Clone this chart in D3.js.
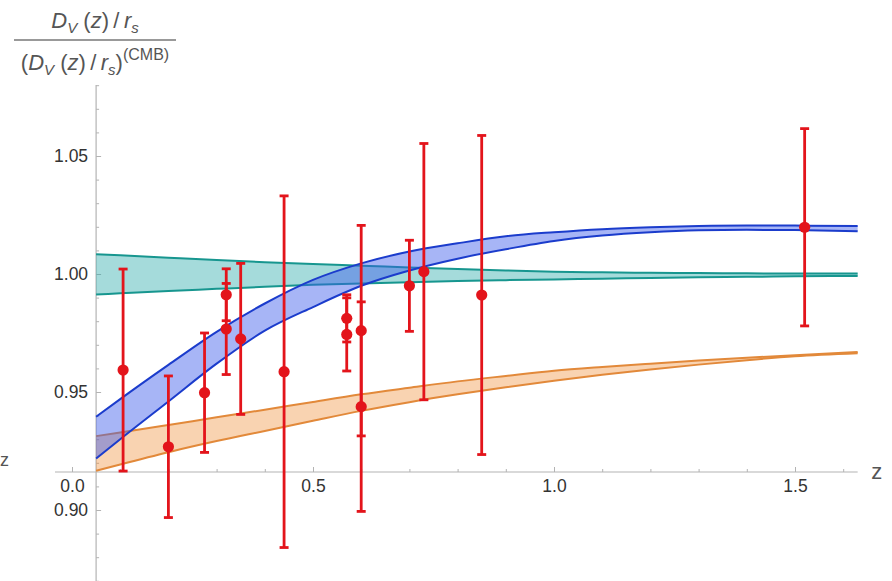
<!DOCTYPE html>
<html><head><meta charset="utf-8">
<script src="https://cdn.jsdelivr.net/npm/d3@7"></script>
<style>
body{margin:0;background:#fff;}
svg{display:block;font-family:"Liberation Sans",Arial,sans-serif;}
</style></head>
<body><svg id="c" width="892" height="581"></svg>
<script>
// ---- data ----
const zBand = [0.05,0.1,0.2,0.3,0.4,0.5,0.6,0.7,0.8,0.9,1.0,1.1,1.2,1.3,1.4,1.5,1.63];
const tealUpper = [1.0084,1.0079,1.0069,1.0059,1.0050,1.0042,1.0035,1.0028,1.0021,1.0015,1.0010,1.0007,1.0005,1.0004,1.0003,1.0002,1.0002];
const tealLower = [0.9913,0.9918,0.9928,0.9937,0.9946,0.9954,0.9960,0.9965,0.9970,0.9974,0.9977,0.9980,0.9983,0.9986,0.9988,0.9990,0.9992];
const blueUpper = [0.9395,0.9470,0.9615,0.9755,0.9875,0.9975,1.0045,1.0095,1.0130,1.0160,1.0177,1.0190,1.0198,1.0203,1.0205,1.0205,1.0203];
const blueLower = [0.9218,0.9300,0.9460,0.9620,0.9760,0.9860,0.9950,1.0015,1.0065,1.0105,1.0140,1.0163,1.0177,1.0185,1.0187,1.0186,1.0181];
const orangeUpper = [0.9313,0.9328,0.9360,0.9393,0.9425,0.9458,0.9490,0.9518,0.9545,0.9568,0.9590,0.9606,0.9620,0.9633,0.9645,0.9656,0.9669];
const orangeLower = [0.9166,0.9193,0.9245,0.9292,0.9335,0.9378,0.9420,0.9457,0.9490,0.9520,0.9548,0.9573,0.9595,0.9616,0.9635,0.9651,0.9664];

const dataZ   = [0.106,0.20,0.275,0.32,0.32,0.35,0.44,0.57,0.57,0.60,0.60,0.70,0.73,0.85,1.52];
const dataVal = [0.9593,0.9268,0.9497,0.9912,0.9767,0.9725,0.9586,0.9812,0.9744,0.9760,0.9438,0.9950,1.0010,0.9911,1.0198];
const dataErr = [0.0428,0.0300,0.0253,0.0110,0.0193,0.0320,0.0745,0.0100,0.0155,0.0446,0.0444,0.0193,0.0543,0.0676,0.0418];

const xMajor = [0,0.5,1.0,1.5];
const xMajorLabels = ["0.0","0.5","1.0","1.5"];
const xMinor = [0.1,0.2,0.3,0.4,0.6,0.7,0.8,0.9,1.1,1.2,1.3,1.4,1.6];
const yMajor = [0.90,0.95,1.00,1.05];
const yMajorLabels = ["0.90","0.95","1.00","1.05"];
const yMinor = [0.87,0.88,0.89,0.91,0.92,0.93,0.94,0.96,0.97,0.98,0.99,1.01,1.02,1.03,1.04,1.06,1.07,1.08];

// ---- scales ----
const svg = d3.select("#c");
const x = d3.scaleLinear().domain([0,1.5]).range([72,795]);
const y = d3.scaleLinear().domain([0.90,1.05]).range([510,156]);
const zMin = 0.05, zMax = 1.63, yAxisVal = 0.9161;
const X0 = x(zMin), X1 = x(zMax), YA = y(yAxisVal);

const axisCol = "#b3b3b3", textCol = "#333";
const FF = "Liberation Sans, Arial, sans-serif";

// ---- bands ----
function band(up, lo, fill, op, stroke){
  const pts = zBand.map((z,i)=>({z, u:up[i], l:lo[i]}));
  const area = d3.area().x(d=>x(d.z)).y0(d=>y(d.l)).y1(d=>y(d.u)).curve(d3.curveMonotoneX);
  const line = d3.line().x(d=>x(d.z)).curve(d3.curveMonotoneX);
  const g = svg.append("g");
  g.append("path").attr("d", area(pts)).attr("fill", fill).attr("fill-opacity", op);
  g.append("path").attr("d", line.y(d=>y(d.u))(pts)).attr("fill","none").attr("stroke",stroke).attr("stroke-width",2);
  g.append("path").attr("d", line.y(d=>y(d.l))(pts)).attr("fill","none").attr("stroke",stroke).attr("stroke-width",2);
}

// ---- axes ----
const xAxisG = svg.append("g").attr("transform",`translate(0,${YA})`);
xAxisG.append("line").attr("x1",55).attr("x2",X1).attr("stroke",axisCol).attr("stroke-width",1.2);
xAxisG.call(d3.axisBottom(x).tickValues(xMajor).tickSize(-5).tickPadding(8).tickFormat((d,i)=>xMajorLabels[i]))
  .call(g=>g.select(".domain").remove());
xAxisG.selectAll(".tick line").attr("stroke",axisCol);
xAxisG.selectAll(".tick text").attr("fill",textCol).attr("font-size",17.5).attr("font-family",FF);
const xMinG = svg.append("g").attr("transform",`translate(0,${YA})`);
xMinG.call(d3.axisBottom(x).tickValues(xMinor).tickSize(-3).tickFormat(""))
  .call(g=>g.select(".domain").remove());
xMinG.selectAll(".tick line").attr("stroke",axisCol);

const yAxisG = svg.append("g").attr("transform",`translate(${X0},0)`);
yAxisG.append("line").attr("y1",85).attr("y2",581).attr("stroke",axisCol).attr("stroke-width",1.2);
yAxisG.call(d3.axisLeft(y).tickValues(yMajor).tickSize(-5).tickPadding(8).tickFormat((d,i)=>yMajorLabels[i]))
  .call(g=>g.select(".domain").remove());
yAxisG.selectAll(".tick line").attr("stroke",axisCol);
yAxisG.selectAll(".tick text").attr("fill",textCol).attr("font-size",17.5).attr("font-family",FF);
const yMinG = svg.append("g").attr("transform",`translate(${X0},0)`);
yMinG.call(d3.axisLeft(y).tickValues(yMinor).tickSize(-3).tickFormat(""))
  .call(g=>g.select(".domain").remove());
yMinG.selectAll(".tick line").attr("stroke",axisCol);

band(tealUpper, tealLower, "rgb(40,170,170)", 0.42, "#17968f");
band(orangeUpper, orangeLower, "rgb(240,140,50)", 0.38, "#e2893a");
band(blueUpper, blueLower, "rgb(60,90,235)", 0.45, "#1b3ccc");

// ---- data points ----
const red = "#e3141b";
const pts = dataZ.map((z,i)=>({z, v:dataVal[i], e:dataErr[i]}));
const eg = svg.append("g");
pts.forEach(d=>{
  const cx = x(d.z), yt = y(d.v+d.e), yb = y(d.v-d.e);
  eg.append("line").attr("x1",cx).attr("x2",cx).attr("y1",yt).attr("y2",yb).attr("stroke",red).attr("stroke-width",2.8);
  eg.append("line").attr("x1",cx-4.5).attr("x2",cx+4.5).attr("y1",yt).attr("y2",yt).attr("stroke",red).attr("stroke-width",2.8);
  eg.append("line").attr("x1",cx-4.5).attr("x2",cx+4.5).attr("y1",yb).attr("y2",yb).attr("stroke",red).attr("stroke-width",2.8);
});
eg.selectAll("circle").data(pts).join("circle")
  .attr("cx",d=>x(d.z)).attr("cy",d=>y(d.v)).attr("r",5.6).attr("fill",red);

// ---- labels ----
const labCol = "#555";
svg.append("text").attr("x",X1+19).attr("y",YA+7).attr("fill",labCol).attr("font-size",22).attr("text-anchor","middle").text("z");
svg.append("text").attr("x",0).attr("y",YA-6).attr("fill",labCol).attr("font-size",18).text("z");

const num = svg.append("text").attr("x",95).attr("y",28).attr("fill",labCol).attr("font-size",22).attr("text-anchor","middle");
num.append("tspan").attr("font-style","italic").text("D");
num.append("tspan").attr("font-size",15).attr("dy",5).attr("font-style","italic").text("V");
num.append("tspan").attr("dy",-5).text(" (");
num.append("tspan").attr("font-style","italic").text("z");
num.append("tspan").text(")\u2009/\u2009");
num.append("tspan").attr("font-style","italic").text("r");
num.append("tspan").attr("font-size",15).attr("dy",5).attr("font-style","italic").text("s");

svg.append("line").attr("x1",14).attr("x2",176).attr("y1",40).attr("y2",40).attr("stroke","#777").attr("stroke-width",1.4);

const den = svg.append("text").attr("x",95).attr("y",70).attr("fill",labCol).attr("font-size",22).attr("text-anchor","middle");
den.append("tspan").text("(");
den.append("tspan").attr("font-style","italic").text("D");
den.append("tspan").attr("font-size",15).attr("dy",5).attr("font-style","italic").text("V");
den.append("tspan").attr("dy",-5).text(" (");
den.append("tspan").attr("font-style","italic").text("z");
den.append("tspan").text(")\u2009/\u2009");
den.append("tspan").attr("font-style","italic").text("r");
den.append("tspan").attr("font-size",15).attr("dy",5).attr("font-style","italic").text("s");
den.append("tspan").attr("dy",-5).text(")");
den.append("tspan").attr("font-size",16).attr("dy",-10).text("(CMB)");
</script></body></html>
